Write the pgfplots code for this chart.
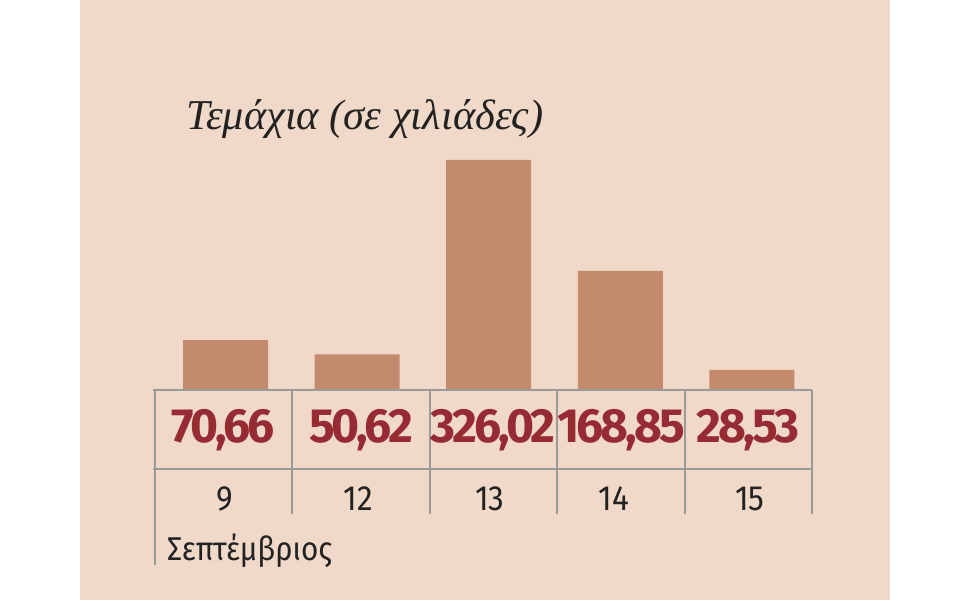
\documentclass[border=0pt]{standalone}
\usepackage{pgfplots}
\pgfplotsset{compat=1.18}
\usepackage{fontspec}
\setmainfont{Fira Sans}
\newfontfamily\titlefont{Liberation Serif}
\newfontfamily\valfont[LetterSpace=-6]{Fira Sans}
\newfontfamily\daysfont[FakeStretch=0.9]{Fira Sans}

\definecolor{bg}{HTML}{F1D9C9}
\definecolor{barc}{HTML}{C38A6E}
\definecolor{valred}{HTML}{962B33}
\definecolor{gridg}{HTML}{9A9A9A}
\definecolor{txt}{HTML}{222222}

\begin{document}
\begin{tikzpicture}[x=1pt,y=1pt]
  % page and panel
  \fill[white] (0,0) rectangle (960,600);
  \fill[bg] (80,0) rectangle (890,600);

  \begin{axis}[
    at={(153pt,210pt)}, anchor=south west,
    scale only axis, width=659pt, height=230pt,
    xmin=-0.551, xmax=4.457, ymin=0, ymax=326.02,
    axis lines=none, clip=false,
    ybar, bar width=85pt, bar shift=0pt,
  ]
    \addplot[fill=barc, draw=none] coordinates {
      (0,70.66) (1,50.62) (2,326.02) (3,168.85) (4,28.53)
    };
  \end{axis}

  % table lines
  \draw[gridg, line width=1.6pt] (153,210) -- (812,210);
  \draw[gridg, line width=1.6pt] (153,131) -- (812,131);
  \draw[gridg, line width=1.6pt] (155,210) -- (155,35);
  \foreach \xx in {292,430,557,685,812}
    \draw[gridg, line width=1.6pt] (\xx,210) -- (\xx,86);

  % values
  \foreach \xx/\v in {223/{70,66},361/{50,62},493/{326,02},621/{168,85},748/{28,53}}
    \node[anchor=base, text=valred, font=\valfont\bfseries\fontsize{48}{48}\selectfont, inner sep=0pt] at (\xx,158) {\v};

  % days
  \foreach \xx/\d in {225/9,358/12,490/13,614/14,750/15}
    \node[anchor=base, text=txt, font=\daysfont\fontsize{35}{35}\selectfont, inner sep=0pt] at (\xx,90) {\d};

  \node[anchor=base west, text=txt, font=\daysfont\fontsize{33}{33}\selectfont, inner sep=0pt] at (167,40) {Σεπτέμβριος};

  % title
  \node[anchor=base west, text=txt, font=\titlefont\itshape\fontsize{42.5}{42.5}\selectfont, inner sep=0pt] at (186,470) {Τεμάχια (σε χιλιάδες)};
\end{tikzpicture}
\end{document}
